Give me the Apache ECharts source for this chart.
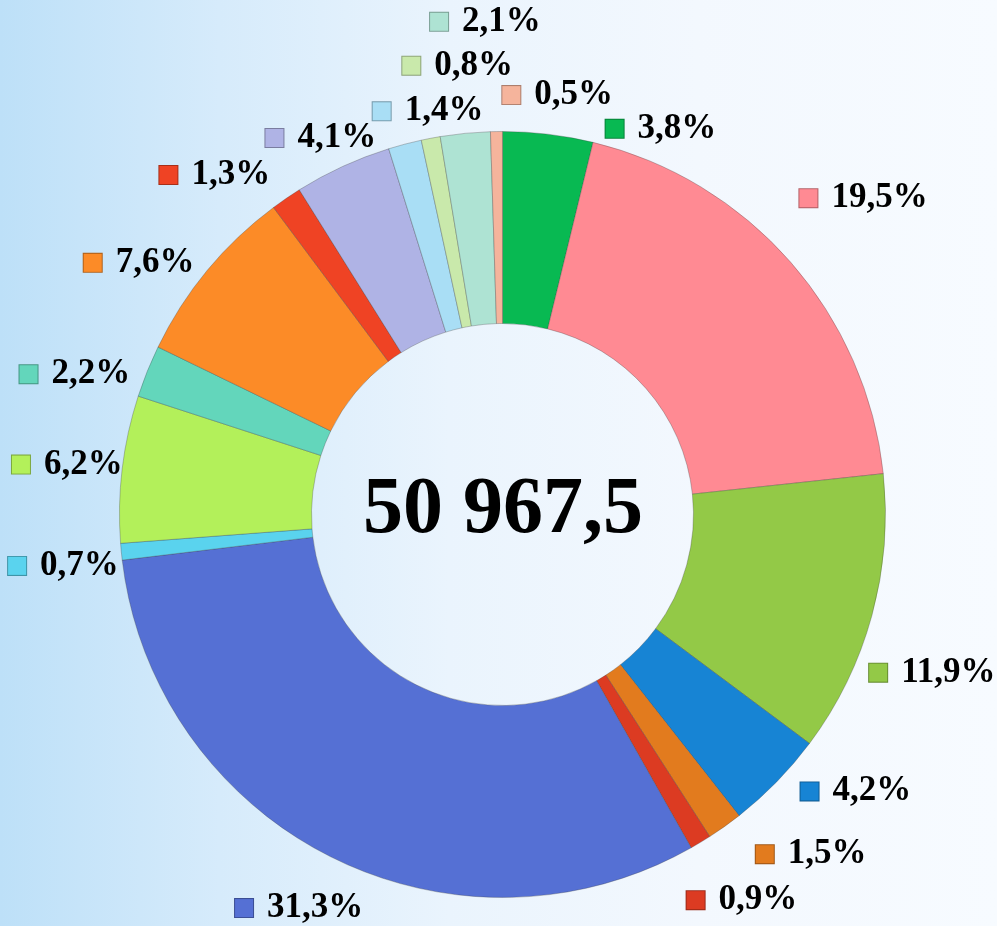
<!DOCTYPE html>
<html>
<head>
<meta charset="utf-8">
<script src="https://cdn.jsdelivr.net/npm/echarts@6/dist/echarts.min.js"></script>
<style>
html, body { margin: 0; padding: 0; }
#chart1 {
	width: 997px;
	height: 926px;
	background: linear-gradient(90deg, #bde0f8 0%, #d6ebfb 22%, #eaf4fd 45%, #f3f8fe 70%, #f7fbff 100%);
}
</style>
</head>
<body>
<div id="chart1"></div>
<script>
// доли, % (по часовой стрелке от 12 часов)
var shares = [3.8, 19.5, 11.9, 4.2, 1.5, 0.9, 31.3, 0.7, 6.2, 2.2, 7.6, 1.3, 4.1, 1.4, 0.8, 2.1, 0.5];
var colors = ['#08b952', '#ff8a93', '#93c947', '#1784d4', '#e27b1e', '#dc3b22', '#5570d4', '#5ad3ee', '#b3f05a',
	'#63d6bb', '#fc8b27', '#ef4324', '#afb3e5', '#a9def5', '#c9e9ab', '#aee3d3', '#f5b49c'];
var totalText = '50 967,5';

// сдвиг подписей относительно середины сектора: [градусы, пиксели]
var labelNudge = [[15.5, -24], [0, 39], [4.9, 17], [-6.2, 8], [-6.8, 18], [-0.7, 13], [0.5, 2], [-1.1, 1],
	[-0.3, -3], [-3.8, 9], [-4.9, 1], [-5.9, 4], [-1.1, -23], [4.3, -31], [5.1, 10], [3.6, 52], [8.4, -18]];

var myChart = echarts.init(document.getElementById('chart1'));
var pieCenter = ['50.4%', '55.56%'];
var radius = [191, 383];
var font = '"Liberation Serif", "Times New Roman", serif';

function fmt(v) {
	return v.toFixed(1).replace('.', ',') + '%';
}

function darker(hex) {
	var n = parseInt(hex.slice(1), 16);
	var r = Math.round(((n >> 16) & 255) * 0.7);
	var g = Math.round(((n >> 8) & 255) * 0.7);
	var b = Math.round((n & 255) * 0.7);
	return 'rgb(' + r + ',' + g + ',' + b + ')';
}

var sum = 0;
for (var i = 0; i < shares.length; i++) sum += shares[i];
var midAngle = [];
var acc = 0;
for (var i = 0; i < shares.length; i++) {
	midAngle.push((acc + shares[i] / 2) / sum * 360);
	acc += shares[i];
}

var data = shares.map(function (v, i) {
	return {
		value: v,
		name: fmt(v),
		itemStyle: { color: colors[i] },
		label: {
			rich: {
				m: {
					width: 18,
					height: 18,
					backgroundColor: colors[i],
					borderColor: darker(colors[i]),
					borderWidth: 1
				},
				t: {
					fontFamily: font,
					fontWeight: 'bold',
					fontSize: 35,
					color: '#000',
					padding: [0, 0, 0, 14]
				}
			}
		}
	};
});

var option = {
	backgroundColor: 'transparent',
	animation: false,
	graphic: [{
		type: 'text',
		x: 503,
		y: 511,
		style: {
			text: totalText,
			fill: '#000',
			font: 'bold 80px ' + font,
			textAlign: 'center',
			textVerticalAlign: 'middle'
		}
	}],
	series: [{
		type: 'pie',
		center: pieCenter,
		radius: radius,
		startAngle: 90,
		clockwise: true,
		avoidLabelOverlap: false,
		itemStyle: {
			borderColor: 'rgba(60,60,60,0.3)',
			borderWidth: 1
		},
		label: {
			show: true,
			position: 'outside',
			formatter: function (p) {
				return '{m|}{t|' + p.name + '}';
			}
		},
		labelLine: { show: false },
		labelLayout: function (p) {
			var i = p.dataIndex;
			var cx = myChart.getWidth() * parseFloat(pieCenter[0]) / 100;
			var cy = myChart.getHeight() * parseFloat(pieCenter[1]) / 100;
			var a = (midAngle[i] + labelNudge[i][0]) * Math.PI / 180;
			var d = radius[1] + 58 + labelNudge[i][1];
			return {
				x: cx + d * Math.sin(a),
				y: cy - d * Math.cos(a),
				align: 'center',
				verticalAlign: 'middle'
			};
		},
		emphasis: { disabled: true },
		data: data
	}]
};
myChart.setOption(option);
</script>
</body>
</html>
